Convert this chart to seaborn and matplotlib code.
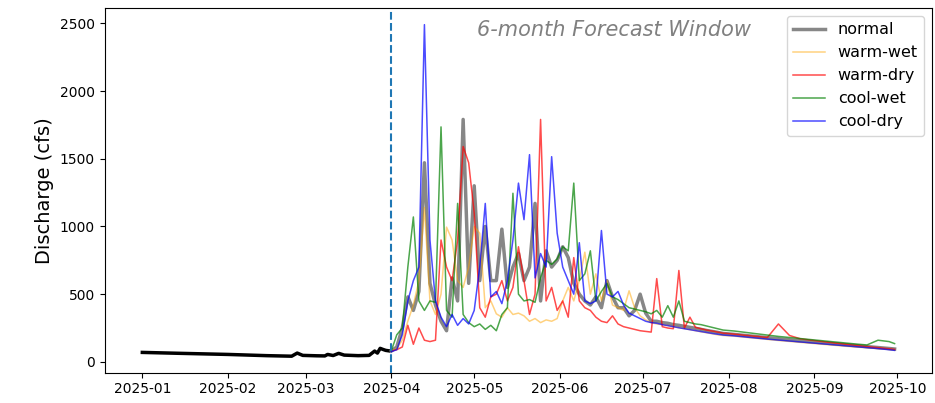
import pandas as pd
import matplotlib
matplotlib.use("Agg")
import matplotlib.pyplot as plt
import seaborn as sns

# --- Observed discharge (Jan - Mar) ---
hist_dates = ["2025-01-01", "2025-01-15", "2025-02-01", "2025-02-15", "2025-02-24",
              "2025-02-26", "2025-02-28", "2025-03-05", "2025-03-08", "2025-03-09",
              "2025-03-11", "2025-03-13", "2025-03-15", "2025-03-20", "2025-03-24",
              "2025-03-26", "2025-03-27", "2025-03-28", "2025-03-29", "2025-03-30",
              "2025-03-31"]
hist_q = [70, 63, 55, 46, 42, 65, 48, 45, 44, 55, 47, 63, 50, 46, 48, 80, 65, 100, 92, 85, 82]

# --- Forecast dates: every 2 days Apr-Jul, every 4 days Aug-Sep ---
fc_dates = (list(pd.date_range("2025-04-01", "2025-07-30", freq="2D"))
            + list(pd.date_range("2025-08-03", "2025-09-28", freq="4D"))
            + [pd.Timestamp("2025-09-30")])

normal = [80, 110, 250, 480, 380, 520, 1470, 580, 420, 300,
          230, 620, 450, 1790, 580, 1300, 600, 1000, 600, 600,
          980, 550, 700, 800, 600, 700, 1170, 450, 820, 700,
          750, 850, 770, 580, 500, 450, 420, 480, 400, 600,
          480, 400, 400, 340, 380, 500, 360, 300, 300, 290,
          285, 275, 270, 262, 255, 248, 240, 232, 225, 218, 210,
          203, 195, 187, 179, 171, 163, 155, 148, 141, 134, 127, 120, 113, 106, 99, 95]

warm_wet = [80, 100, 160, 300, 420, 600, 1140, 450, 350, 500,
            995, 900, 600, 550, 700, 1000, 950, 400, 450, 355,
            330, 400, 350, 360, 340, 300, 320, 290, 310, 300,
            320, 450, 550, 450, 600, 810, 500, 650, 450, 600,
            420, 400, 380, 525, 400, 340, 310, 290, 280, 275,
            268, 260, 252, 245, 238, 230, 222, 215, 208, 200, 195,
            190, 182, 174, 166, 158, 151, 144, 137, 130, 123, 116, 110, 104, 98, 92, 88]

warm_dry = [80, 90, 110, 270, 130, 250, 160, 150, 160, 900,
            700, 600, 900, 1590, 1470, 1100, 400, 330, 480, 500,
            600, 450, 550, 850, 600, 350, 500, 1790, 450, 550,
            380, 450, 330, 770, 450, 400, 380, 330, 300, 290,
            340, 280, 260, 250, 240, 230, 225, 220, 615, 260,
            250, 245, 675, 250, 330, 255, 245, 235, 228, 220, 212,
            205, 196, 188, 180, 280, 195, 170, 160, 150, 140, 131, 122, 113, 105, 97, 92]

cool_wet = [80, 200, 250, 700, 1070, 450, 380, 450, 440, 1735,
            380, 330, 1170, 350, 290, 260, 280, 240, 270, 230,
            350, 400, 1245, 500, 450, 460, 440, 620, 750, 720,
            760, 850, 820, 1320, 600, 650, 820, 450, 520, 580,
            480, 460, 430, 400, 390, 380, 370, 355, 380, 330,
            415, 330, 450, 300, 290, 280, 275, 265, 255, 245, 235,
            228, 218, 208, 198, 188, 180, 172, 164, 156, 148, 140, 132, 125, 160, 150, 135]

cool_dry = [75, 90, 200, 450, 600, 700, 2490, 900, 450, 330,
            260, 350, 270, 320, 280, 380, 700, 1170, 480, 520,
            430, 600, 900, 1320, 1050, 1530, 620, 800, 700, 1515,
            950, 700, 600, 500, 880, 450, 430, 450, 970, 500,
            480, 520, 420, 360, 340, 320, 300, 290, 285, 275,
            268, 260, 252, 245, 238, 231, 224, 217, 210, 204, 198,
            192, 184, 176, 168, 161, 154, 147, 140, 133, 126, 119, 112, 105, 98, 90, 85]

scenarios = [
    ("normal", normal, "dimgray", 2.5, 0.8),
    ("warm-wet", warm_wet, "orange", 1.1, 0.5),
    ("warm-dry", warm_dry, "red", 1.1, 0.7),
    ("cool-wet", cool_wet, "green", 1.1, 0.7),
    ("cool-dry", cool_dry, "blue", 1.1, 0.7),
]

fig, ax = plt.subplots(figsize=(9.35, 4.03), dpi=100)

sns.lineplot(x=pd.to_datetime(hist_dates), y=hist_q, ax=ax, color="black", lw=2.5)

for name, vals, col, lw, a in scenarios:
    sns.lineplot(x=fc_dates, y=vals, ax=ax, color=col, lw=lw, alpha=a, label=name)

ax.axvline(pd.Timestamp("2025-04-01"), color="#1f77b4", linestyle="--", lw=1.5)
ax.text(0.615, 0.94, "6-month Forecast Window", transform=ax.transAxes,
        ha="center", va="center", style="italic", color="gray", fontsize=15)

ax.set_ylabel("Discharge (cfs)", fontsize=14)
ax.set_xlabel("")
ax.tick_params(labelsize=10)
ax.legend(loc="upper right", fontsize=11.5)

plt.subplots_adjust(left=0.112, right=0.997, top=0.98, bottom=0.075)
plt.savefig("out.png", dpi=100)
plt.close()
